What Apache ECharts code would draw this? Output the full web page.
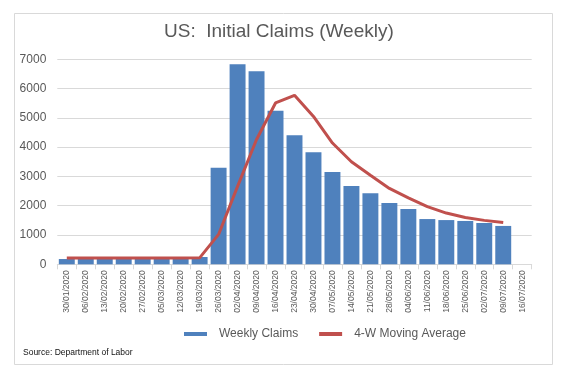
<!DOCTYPE html>
<html>
<head>
<meta charset="utf-8">
<script src="https://cdn.jsdelivr.net/npm/echarts@6/dist/echarts.min.js"></script>
<style>
html,body{margin:0;padding:0;background:#fff;}
#c{width:567px;height:372px;}
</style>
</head>
<body>
<div id="c"></div>
<script>
var categories = ['30/01/2020','06/02/2020','13/02/2020','20/02/2020','27/02/2020','05/03/2020','12/03/2020','19/03/2020','26/03/2020','02/04/2020','09/04/2020','16/04/2020','23/04/2020','30/04/2020','07/05/2020','14/05/2020','21/05/2020','28/05/2020','04/06/2020','11/06/2020','18/06/2020','25/06/2020','02/07/2020','09/07/2020','16/07/2020'];
var weeklyClaims = [180,210,210,215,215,215,210,250,3300,6830,6590,5240,4410,3830,3150,2670,2430,2090,1890,1545,1510,1480,1410,1310,null];
var movingAverage = [215,215,215,215,215,215,215,220,1020,2660,4260,5510,5770,5050,4140,3500,3040,2590,2270,1970,1750,1600,1500,1430,null];
var yTicks = {min:0, max:7000, interval:1000};

var FONT = '"Liberation Sans", Arial, sans-serif';
var chart = echarts.init(document.getElementById('c'), null, {renderer:'canvas'});
chart.setOption({
  backgroundColor:'#fff',
  animation:false,
  title:{
    text:'US:  Initial Claims (Weekly)',
    left:164, top:22, padding:0,
    textStyle:{fontFamily:FONT, fontSize:19, fontWeight:'normal', color:'#595959'}
  },
  legend:{
    left:184, top:328, padding:0,
    itemWidth:23, itemHeight:4, itemGap:21,
    textStyle:{fontFamily:FONT, fontSize:12, color:'#595959', padding:[0,0,0,7]},
    data:[
      {name:'Weekly Claims', icon:'rect', itemStyle:{color:'#4f81bd'}},
      {name:'4-W Moving Average', icon:'rect', itemStyle:{color:'#c0504d'}}
    ]
  },
  grid:{left:57.3, right:35.3, top:59.3, bottom:107.7, containLabel:false},
  xAxis:{
    type:'category', data:categories, boundaryGap:true,
    axisLine:{lineStyle:{color:'#d9d9d9', width:1}},
    axisTick:{show:true, length:5, lineStyle:{color:'#d9d9d9'}},
    axisLabel:{rotate:90, interval:0, fontFamily:FONT, fontSize:8.5, color:'#595959', margin:6}
  },
  yAxis:{
    type:'value', min:yTicks.min, max:yTicks.max, interval:yTicks.interval,
    axisLine:{show:false}, axisTick:{show:false},
    splitLine:{lineStyle:{color:'#d9d9d9', width:1}},
    axisLabel:{fontFamily:FONT, fontSize:12, color:'#595959', margin:11,
      formatter:function(v){return String(v);}}
  },
  series:[
    {name:'Weekly Claims', type:'bar', data:weeklyClaims, barCategoryGap:'16%',
     itemStyle:{color:'#4f81bd'}},
    {name:'4-W Moving Average', type:'line', data:movingAverage, symbol:'none',
     lineStyle:{color:'#c0504d', width:3}, itemStyle:{color:'#c0504d'}, z:3}
  ],
  graphic:[
    {type:'rect', shape:{x:14.5, y:13.5, width:538, height:351}, style:{fill:'none', stroke:'#d9d9d9', lineWidth:1}, z:-1},
    {type:'text', left:23, top:348.5, style:{text:'Source: Department of Labor', font:'8.5px '+FONT, fill:'#111'}}
  ]
});
</script>
</body>
</html>
